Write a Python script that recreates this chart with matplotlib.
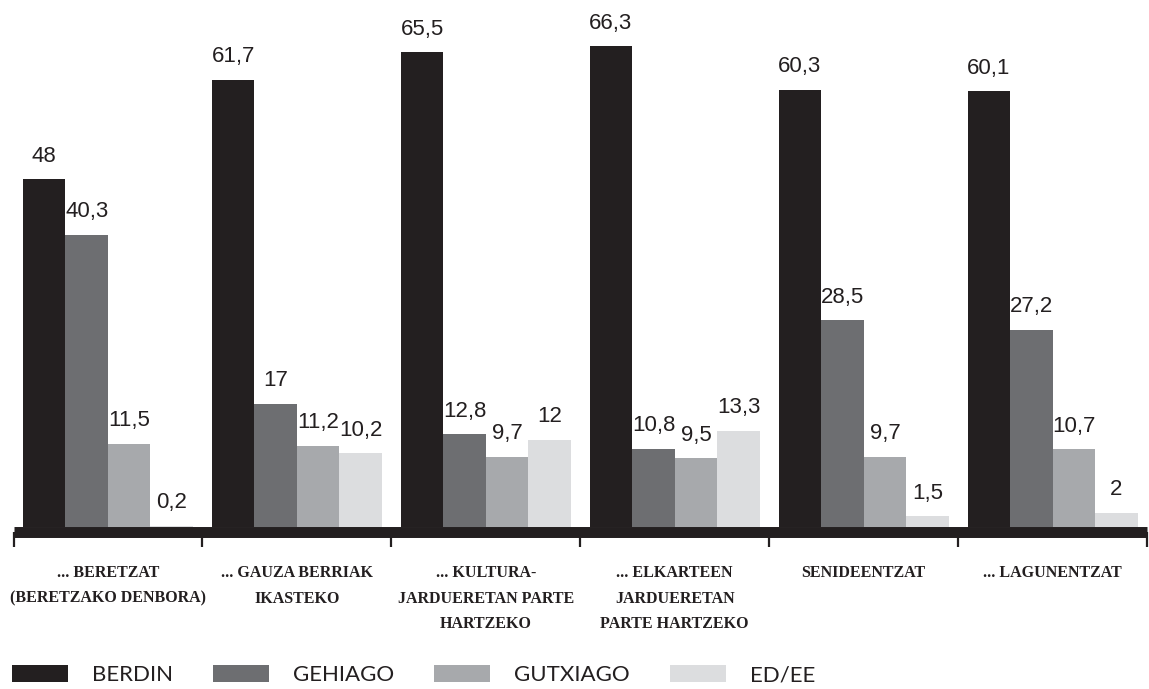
import matplotlib
matplotlib.use("Agg")
import matplotlib.pyplot as plt
import numpy as np

categories = ["... BERETZAT\n(BERETZAKO DENBORA)", "... GAUZA BERRIAK\nIKASTEKO",
              "... KULTURA-\nJARDUERETAN PARTE\nHARTZEKO", "... ELKARTEEN\nJARDUERETAN\nPARTE HARTZEKO",
              "SENIDEENTZAT", "... LAGUNENTZAT"]
series_names = ["BERDIN", "GEHIAGO", "GUTXIAGO", "ED/EE"]
berdin = [48, 61.7, 65.5, 66.3, 60.3, 60.1]
gehiago = [40.3, 17, 12.8, 10.8, 28.5, 27.2]
gutxiago = [11.5, 11.2, 9.7, 9.5, 9.7, 10.7]
ed_ee = [0.2, 10.2, 12, 13.3, 1.5, 2]
colors = ["#231f20", "#6d6e71", "#a7a9ac", "#dcdddf"]

series = [berdin, gehiago, gutxiago, ed_ee]
dark = "#231f20"

fig = plt.figure(figsize=(11.49, 6.89), dpi=100)
W, H = 1149, 689
ax = fig.add_axes([13.5 / W, (H - 527) / H, (1147 - 13.5) / W, 527 / H])

x = np.arange(len(categories))
bw = 0.225
handles = []
for k, (vals, c, name) in enumerate(zip(series, colors, series_names)):
    bars = ax.bar(x + (k - 1.5) * bw, vals, width=bw, color=c, label=name, linewidth=0)
    handles.append(bars)
    labels = [f"{v:g}".replace(".", ",") for v in vals]
    ax.bar_label(bars, labels=labels, padding=9, fontsize=16, color=dark,
                 family="Liberation Sans")

ax.set_xlim(-0.5, 5.5)
ax.set_ylim(0, 527 / 7.25)
for s in ["top", "right", "left"]:
    ax.spines[s].set_visible(False)
ax.spines["bottom"].set_linewidth(7.9)
ax.spines["bottom"].set_color(dark)
ax.spines["bottom"].set_position(("outward", 3.95))
ax.spines["bottom"].set_capstyle("butt")
ax.set_yticks([])
ax.set_xticks(np.arange(-0.5, 6.0, 1.0))
ax.set_xticklabels([])
ax.tick_params(axis="x", which="major", length=11, width=1.6, color=dark, direction="out")
ax.set_xticks(x, categories, minor=True)
ax.tick_params(axis="x", which="minor", length=0, pad=23.5)
for t in ax.get_xticklabels(minor=True):
    t.set_family("Liberation Serif")
    t.set_fontweight("bold")
    t.set_fontsize(11.5)
    t.set_color(dark)
    t.set_linespacing(1.8)
    t.set_verticalalignment("top")

leg = fig.legend(handles=handles, labels=series_names, loc="center left",
                 bbox_to_anchor=(12 / W, (H - 675) / H), ncol=4, frameon=False,
                 prop={"family": "Lato", "size": 16},
                 handlelength=2.52, handleheight=0.77,
                 handletextpad=1.08, columnspacing=1.8, borderpad=0, borderaxespad=0)
for t in leg.get_texts():
    t.set_color(dark)

fig.savefig("out.png", dpi=100)
